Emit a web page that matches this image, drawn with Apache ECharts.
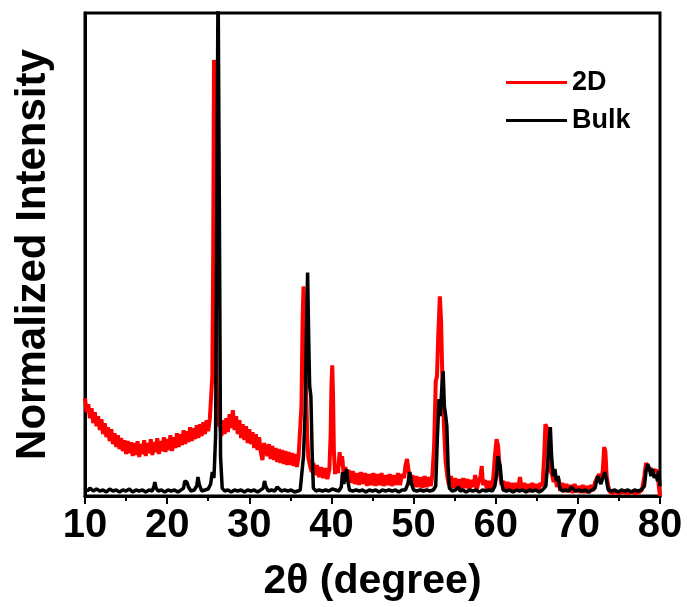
<!DOCTYPE html>
<html>
<head>
<meta charset="utf-8">
<script src="https://cdn.jsdelivr.net/npm/echarts@6/dist/echarts.min.js"></script>
<style>
html,body{margin:0;padding:0;background:#fff;}
#c{width:687px;height:607px;}
</style>
</head>
<body>
<div id="c"></div>
<script>
// ---- data (2θ in degree, intensity in arbitrary normalized units) ----
var seriesNames = ['2D', 'Bulk'];
var xTickLabels = [10, 20, 30, 40, 50, 60, 70, 80];

var data2D = [
[10.0,98],[10.2,84],[10.4,92],[10.6,78],[10.8,88],[11.0,73],[11.2,84],[11.4,70],[11.6,80],[11.8,66],
[12.0,77],[12.2,62],[12.4,73],[12.6,59],[12.8,69],[13.0,55],[13.2,67],[13.4,52],[13.6,63],[13.8,49],
[14.0,61],[14.2,47],[14.4,58],[14.6,45],[14.8,56],[15.0,42],[15.2,55],[15.4,43],[15.6,54],[15.8,40],
[16.0,53],[16.2,41],[16.4,55],[16.6,39],[16.8,52],[17.0,42],[17.2,56],[17.4,40],[17.6,53],[17.8,43],
[18.0,57],[18.2,41],[18.4,54],[18.6,44],[18.8,58],[19.0,42],[19.2,55],[19.4,45],[19.6,59],[19.8,44],
[20.0,57],[20.2,46],[20.4,61],[20.6,45],[20.8,59],[21.0,48],[21.2,63],[21.4,49],[21.6,62],[21.8,51],
[22.0,66],[22.2,52],[22.4,65],[22.6,54],[22.8,69],[23.0,55],[23.2,68],[23.4,57],[23.6,71],[23.8,58],
[24.0,72],[24.2,60],[24.4,74],[24.6,62],[24.8,76],[25.0,65],[25.2,78],[25.4,80],[25.5,120],[25.6,230],
[25.7,437],[25.8,400],[25.9,250],[26.0,120],[26.1,85],[26.2,70],[26.4,74],[26.6,60],[26.8,76],[27.0,62],
[27.2,78],[27.4,64],[27.6,82],[27.8,68],[28.0,86],[28.2,66],[28.4,80],[28.6,62],[28.8,76],[29.0,58],
[29.2,72],[29.4,56],[29.6,70],[29.8,53],[30.0,67],[30.2,52],[30.4,64],[30.6,48],[30.8,62],[31.0,46],
[31.2,59],[31.4,44],[31.6,36],[31.8,53],[32.0,54],[32.2,40],[32.4,52],[32.6,37],[32.8,50],[33.0,36],
[33.2,48],[33.4,34],[33.6,47],[33.8,33],[34.0,46],[34.2,32],[34.4,45],[34.6,31],[34.8,44],[35.0,31],
[35.2,43],[35.4,30],[35.6,42],[35.8,29],[36.0,40],[36.2,42],[36.35,90],[36.5,180],[36.6,210],[36.75,170],
[36.9,110],[37.05,60],[37.2,38],[37.4,30],[37.6,24],[37.8,33],[38.0,21],[38.25,31],[38.5,19],[38.75,29],
[39.0,18],[39.25,28],[39.5,17],[39.75,27],[39.9,60],[40.0,110],[40.1,131],[40.2,100],[40.3,45],[40.45,22],
[40.6,31],[40.8,23],[41.0,44],[41.15,30],[41.3,40],[41.5,21],[41.7,29],[41.9,15],[42.1,26],[42.35,13],
[42.6,25],[42.85,12],[43.1,23],[43.35,11],[43.6,24],[43.85,12],[44.1,23],[44.35,10],[44.6,22],[44.85,11],
[45.1,23],[45.35,10],[45.6,22],[45.85,11],[46.1,23],[46.35,10],[46.6,21],[46.85,11],[47.1,22],[47.35,10],
[47.6,21],[47.85,11],[48.1,23],[48.35,11],[48.6,22],[48.85,18],[49.0,30],[49.2,37],[49.4,25],[49.6,11],
[49.85,21],[50.1,9],[50.35,20],[50.6,9],[50.85,19],[51.1,8],[51.35,20],[51.6,9],[51.85,19],[52.1,10],
[52.3,22],[52.5,50],[52.7,115],[52.85,120],[53.0,160],[53.2,200],[53.35,175],[53.5,120],[53.7,70],[53.9,35],
[54.1,20],[54.3,11],[54.55,20],[54.8,8],[55.05,18],[55.3,7],[55.55,17],[55.8,7],[56.05,18],[56.3,8],
[56.55,17],[56.8,7],[57.05,16],[57.3,9],[57.5,21],[57.7,7],[57.95,15],[58.15,20],[58.3,30],[58.45,11],
[58.7,16],[58.95,6],[59.2,15],[59.45,7],[59.7,18],[59.9,40],[60.1,57],[60.3,50],[60.5,25],[60.7,11],
[60.95,15],[61.2,5],[61.45,14],[61.7,5],[61.95,13],[62.2,4],[62.45,13],[62.7,6],[62.95,19],[63.2,7],
[63.45,13],[63.7,4],[63.95,12],[64.2,4],[64.45,13],[64.7,5],[64.95,12],[65.2,4],[65.45,13],[65.7,10],
[65.9,40],[66.05,72],[66.25,68],[66.45,40],[66.65,25],[66.85,22],[67.05,14],[67.25,20],[67.45,9],[67.65,17],
[67.85,5],[68.1,13],[68.35,4],[68.6,12],[68.85,4],[69.1,11],[69.35,3],[69.6,12],[69.85,4],[70.1,10],
[70.35,3],[70.6,11],[70.85,3],[71.1,10],[71.35,3],[71.6,11],[71.85,5],[72.1,14],[72.35,18],[72.6,22],
[72.85,15],[73.05,27],[73.2,49],[73.35,45],[73.5,20],[73.7,10],[73.9,4],[74.2,3],[74.6,4],[75.0,3],
[75.5,4],[76.0,3],[76.5,4],[77.0,3],[77.5,4],[77.8,6],[78.1,20],[78.3,33],[78.5,32],[78.7,25],
[78.9,28],[79.1,22],[79.3,26],[79.5,24],[79.7,25],[79.85,10],[80.0,0]
];

var dataBulk = [
[10.0,7],[10.3,5],[10.6,8],[11.0,5],[11.4,7],[11.8,5],[12.2,6],[12.6,4],[13.0,7],[13.4,5],
[13.8,6],[14.2,4],[14.6,6],[15.0,5],[15.4,7],[15.8,4],[16.2,6],[16.6,5],[17.0,6],[17.4,4],
[17.8,6],[18.2,5],[18.4,10],[18.5,14],[18.65,8],[18.9,5],[19.3,6],[19.7,4],[20.1,6],[20.5,5],
[20.9,6],[21.3,4],[21.7,6],[22.0,8],[22.15,15],[22.4,14],[22.6,9],[22.9,5],[23.3,6],[23.6,10],
[23.75,19],[23.9,12],[24.2,5],[24.6,6],[25.0,7],[25.3,12],[25.5,24],[25.7,18],[25.9,60],[26.05,300],
[26.2,520],[26.35,300],[26.5,40],[26.7,8],[27.0,5],[27.4,6],[27.8,4],[28.2,6],[28.6,5],[29.0,6],
[29.4,4],[29.8,6],[30.2,5],[30.6,6],[31.0,4],[31.4,6],[31.7,8],[31.85,15],[32.0,10],[32.3,5],
[32.7,6],[33.1,5],[33.4,9],[33.6,10],[33.9,5],[34.3,6],[34.7,5],[35.1,6],[35.5,4],[35.9,5],
[36.2,6],[36.4,8],[36.6,40],[36.8,85],[36.95,160],[37.1,224],[37.25,150],[37.35,110],[37.5,100],[37.65,45],
[37.8,8],[38.1,5],[38.5,6],[38.9,5],[39.3,6],[39.7,5],[40.1,7],[40.5,6],[40.9,5],[41.2,9],
[41.35,24],[41.5,12],[41.7,10],[41.85,27],[42.0,15],[42.2,6],[42.6,5],[43.0,6],[43.4,5],[43.8,6],
[44.2,4],[44.6,6],[45.0,5],[45.4,6],[45.8,4],[46.2,6],[46.6,5],[47.0,6],[47.4,5],[47.8,6],
[48.2,4],[48.6,6],[49.0,6],[49.3,12],[49.55,24],[49.75,12],[50.0,6],[50.4,5],[50.8,6],[51.2,5],
[51.6,6],[52.0,5],[52.4,6],[52.7,10],[52.9,60],[53.1,97],[53.25,80],[53.45,110],[53.6,125],[53.75,90],
[53.9,81],[54.05,70],[54.2,30],[54.35,8],[54.7,5],[55.1,6],[55.5,9],[55.65,5],[56.0,6],[56.4,4],
[56.8,6],[57.2,5],[57.6,6],[58.0,4],[58.4,6],[58.8,5],[59.2,6],[59.6,5],[59.9,10],[60.1,20],
[60.25,40],[60.4,35],[60.55,30],[60.7,15],[60.9,6],[61.3,5],[61.7,6],[62.1,4],[62.5,6],[62.9,5],
[63.3,6],[63.7,4],[64.1,6],[64.5,5],[64.9,6],[65.3,4],[65.7,6],[66.1,10],[66.3,30],[66.5,55],
[66.65,69],[66.8,40],[67.0,20],[67.2,27],[67.4,15],[67.6,20],[67.8,8],[68.1,5],[68.5,6],[68.9,5],
[69.2,9],[69.4,8],[69.7,5],[70.1,6],[70.5,5],[70.9,6],[71.3,4],[71.7,6],[72.1,8],[72.4,20],
[72.6,22],[72.8,12],[73.1,20],[73.3,24],[73.5,15],[73.7,6],[74.1,5],[74.5,6],[74.9,4],[75.3,6],
[75.7,5],[76.1,6],[76.5,4],[76.9,6],[77.3,5],[77.7,6],[78.1,10],[78.3,25],[78.5,32],[78.7,28],
[78.9,20],[79.1,27],[79.3,18],[79.5,22],[79.7,15],[79.85,25],[80.0,10]
];

var FONT = '"Liberation Sans", Arial, sans-serif';
var chart = echarts.init(document.getElementById('c'), null, {renderer: 'canvas'});
chart.setOption({
  animation: false,
  backgroundColor: '#ffffff',
  grid: {
    left: 85, right: 27, top: 13, bottom: 110,
    show: true, borderColor: '#000', borderWidth: 3, backgroundColor: 'transparent'
  },
  legend: {
    orient: 'vertical',
    left: 501, top: 64,
    itemWidth: 61, itemHeight: 3, itemGap: 11,
    icon: 'rect',
    data: seriesNames,
    textStyle: {fontFamily: FONT, fontWeight: 'bold', fontSize: 27, color: '#000'}
  },
  xAxis: {
    type: 'value', min: 10, max: 80, interval: 10,
    name: '2θ (degree)', nameLocation: 'middle', nameGap: 65,
    nameTextStyle: {fontFamily: FONT, fontWeight: 'bold', fontSize: 41, color: '#000'},
    axisLine: {show: true, onZero: false, lineStyle: {color: '#000', width: 3}},
    axisTick: {show: true, inside: false, length: 8, lineStyle: {color: '#000', width: 2}},
    minorTick: {show: true, splitNumber: 2, length: 5, lineStyle: {color: '#000', width: 2}},
    axisLabel: {
      fontFamily: FONT, fontWeight: 'bold', fontSize: 40, color: '#000', margin: 10,
      formatter: function (v) { return xTickLabels.indexOf(v) >= 0 ? String(v) : ''; }
    },
    splitLine: {show: false}
  },
  yAxis: {
    type: 'value', min: 0, max: 484,
    name: 'Normalized Intensity', nameLocation: 'middle', nameGap: 31, nameRotate: 90,
    nameTextStyle: {fontFamily: FONT, fontWeight: 'bold', fontSize: 42, color: '#000'},
    axisLine: {show: true, lineStyle: {color: '#000', width: 3}},
    axisTick: {show: false},
    axisLabel: {show: false},
    splitLine: {show: false}
  },
  series: [
    {
      name: seriesNames[0], type: 'line', data: data2D, symbol: 'none', clip: true,
      lineStyle: {color: '#ff0000', width: 4}, itemStyle: {color: '#ff0000'}, z: 2
    },
    {
      name: seriesNames[1], type: 'line', data: dataBulk, symbol: 'none', clip: true,
      lineStyle: {color: '#000000', width: 3.5}, itemStyle: {color: '#000000'}, z: 3
    }
  ]
});
</script>
</body>
</html>
